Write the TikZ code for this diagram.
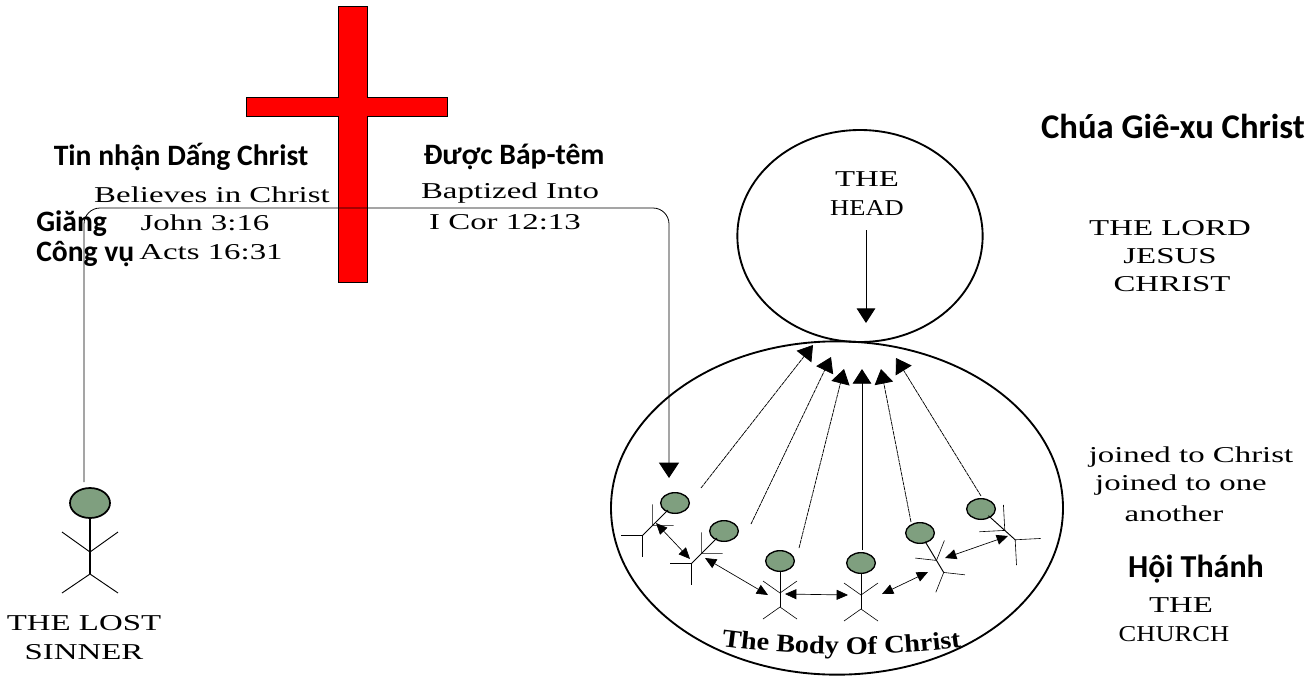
\documentclass[tikz,border=0pt]{standalone}
\usepackage{fontspec}
\usetikzlibrary{arrows.meta}
\usetikzlibrary{shapes}
\usetikzlibrary{decorations.text}
\setmainfont{Liberation Serif}
\newfontfamily\capfont{Carlito}
\newfontfamily\oldfont[FakeStretch=1.45]{Liberation Serif}
\newfontfamily\narrowfont[FakeStretch=1.17]{Liberation Serif}
\newfontfamily\bodyfont[FakeStretch=1.12]{Liberation Serif}
\definecolor{headgreen}{HTML}{7F9F7F}
\tikzset{
    oldtext/.style={inner sep=0pt, font=\oldfont\fontsize{17}{20}\selectfont},
    narrowtext/.style={inner sep=0pt, font=\narrowfont\fontsize{17}{20}\selectfont},
    captext/.style={inner sep=0pt, font=\capfont\bfseries\fontsize{22.2}{26}\selectfont},
    headnode/.style={draw=black, fill=headgreen, ellipse, inner sep=0pt, minimum width=21.5pt, minimum height=15.5pt, line width=1pt},
    bigtip/.style={-{Triangle[length=11pt,width=14pt]}},
    smalltip/.style={{Triangle[length=8.5pt,width=7.5pt]}-{Triangle[length=8.5pt,width=7.5pt]}},
    thinline/.style={line width=0.55pt, dash pattern=on 3pt off 0.5pt},
}
% head node, then body, arms and legs, turned about the head
\newcommand{\stickman}[6]{
    \node[headnode] (#1) at (#2,#3) {};
    \begin{scope}[shift={(#2,#3)}, rotate=#4]
        \draw[line width=0.7pt] (0,10) -- (0,46);
        \draw[line width=0.45pt] (-#5,32-#6) -- (0,32) -- (#5,32-#6);
        \draw[line width=0.45pt] (-#5,46+#6) -- (0,46) -- (#5,46+#6);
    \end{scope}
}
\begin{document}
\begin{tikzpicture}[x=0.75pt, y=-0.75pt]
    \useasboundingbox (0,0) rectangle (1311,676);
    % cross
    \draw[fill=red, line width=0.4pt] (338,6) -- (367,6) -- (367,97) -- (447,97) -- (447,116) -- (367,116) -- (367,282) -- (338,282) -- (338,116) -- (246,116) -- (246,97) -- (338,97) -- cycle;
    % circles
    \node[draw, ellipse, inner sep=0pt, line width=1.4pt, minimum width=184pt, minimum height=159pt] (headcircle) at (860,236) {};
    \node[draw, ellipse, inner sep=0pt, line width=1.4pt, minimum width=339pt, minimum height=250pt] (bodycircle) at (837,508) {};
    % lost sinner
    \node[headnode, minimum width=30pt, minimum height=22.5pt, line width=1.3pt] (sinner) at (90,503) {};
    \draw[line width=1.2pt] (sinner.south) -- (90,574);
    \draw[line width=0.7pt] (62,532) -- (90,552) -- (118,532);
    \draw[line width=0.7pt] (62,593) -- (90,574) -- (118,593);
    % members
    \stickman{memberA}{675}{503}{-45}{15}{15}
    \stickman{memberB}{724}{531}{-45}{15}{15}
    \stickman{memberC}{780}{561}{0}{17}{12}
    \stickman{memberD}{861}{563}{0}{17}{12}
    \stickman{memberE}{920}{533}{31}{17}{13}
    \stickman{memberF}{981}{509}{48}{18}{18}
    % ends of the arrows
    \coordinate (startA) at (701,488);
    \coordinate (startB) at (751,524);
    \coordinate (startC) at (799,548);
    \coordinate (startD) at (862,550);
    \coordinate (startE) at (911,522);
    \coordinate (startF) at (981,496);
    \coordinate (tipA) at (813,345);
    \coordinate (tipB) at (831,357);
    \coordinate (tipC) at (844,369);
    \coordinate (tipD) at (862,369);
    \coordinate (tipE) at (881,369);
    \coordinate (tipF) at (896,358);
    \draw[bigtip, thinline] (startA) -- (tipA);
    \draw[bigtip, thinline] (startB) -- (tipB);
    \draw[bigtip, thinline] (startC) -- (tipC);
    \draw[bigtip, line width=0.6pt] (startD) -- (tipD);
    \draw[bigtip, thinline] (startE) -- (tipE);
    \draw[bigtip, thinline] (startF) -- (tipF);
    % between members
    \coordinate (linkAa) at (656,523);
    \coordinate (linkAb) at (690,559);
    \coordinate (linkBa) at (705,558);
    \coordinate (linkBb) at (768,595);
    \coordinate (linkCa) at (785,594);
    \coordinate (linkCb) at (848,595);
    \coordinate (linkDa) at (882,594);
    \coordinate (linkDb) at (928,572);
    \coordinate (linkEa) at (945,558);
    \coordinate (linkEb) at (1008,536);
    \draw[smalltip, line width=0.5pt] (linkAa) -- (linkAb);
    \draw[smalltip, line width=0.5pt] (linkBa) -- (linkBb);
    \draw[smalltip, line width=0.5pt] (linkCa) -- (linkCb);
    \draw[smalltip, line width=0.5pt] (linkDa) -- (linkDb);
    \draw[smalltip, line width=0.5pt] (linkEa) -- (linkEb);
    % head arrow
    \coordinate (headstart) at (866,230);
    \coordinate (headtip) at (866,323);
    \draw[bigtip, line width=0.7pt] (headstart) -- (headtip);
    % long line from the sinner
    \coordinate (linestart) at (84,482);
    \coordinate (linetip) at (669,478);
    \draw[-{Triangle[length=11.5pt,width=15pt]}, line width=0.6pt, rounded corners=12pt] (linestart) -- (84,208) -- (669,208) -- (linetip);
    % texts of the picture
    \node[oldtext] (believes) at (212,195) {Believes in Christ};
    \node[oldtext] (john) at (205,223) {John 3:16};
    \node[oldtext] (acts) at (211,252) {Acts 16:31};
    \node[oldtext] (baptized) at (510,193) {Baptized Into};
    \node[oldtext] (cor) at (505,222) {I Cor 12:13};
    \node[oldtext] (thehead) at (867,179) {THE};
    \node[narrowtext] (thehead2) at (867,208) {HEAD};
    \node[oldtext] (lord) at (1170,228) {THE LORD};
    \node[oldtext] (jesus) at (1170,256) {JESUS};
    \node[oldtext] (christ) at (1172,284) {CHRIST};
    \node[oldtext] (joinedA) at (1191,457) {joined to Christ};
    \node[oldtext] (joinedB) at (1181,485) {joined to one};
    \node[oldtext] (another) at (1174,514) {another};
    \node[oldtext] (church) at (1181,605) {THE};
    \node[narrowtext] (church2) at (1174,634) {CHURCH};
    \node[oldtext] (lost) at (84,623) {THE LOST};
    \node[oldtext] (lost2) at (84,652) {SINNER};
    % along the lower edge
    \path[decorate, decoration={text along path, text align=center, text={|\bodyfont\bfseries\fontsize{19}{22}\selectfont|The Body Of Christ}}] (715,645) .. controls (790,656) and (890,658) .. (968,646);
    % added captions
    \node[captext] (believecap) at (181,157) {Tin nhận Dấng Christ};
    \node[captext] (baptcap) at (514,157) {Được Báp-têm};
    \node[captext, anchor=west] (giang) at (36,224) {Giăng};
    \node[captext, anchor=west] (congvu) at (36,254) {Công vụ};
    \node[captext, font=\capfont\bfseries\fontsize{26}{30}\selectfont] (jesuscap) at (1173,126) {Chúa Giê-xu Christ};
    \node[captext, font=\capfont\bfseries\fontsize{24}{28}\selectfont] (churchcap) at (1196,569) {Hội Thánh};
\end{tikzpicture}
\end{document}
